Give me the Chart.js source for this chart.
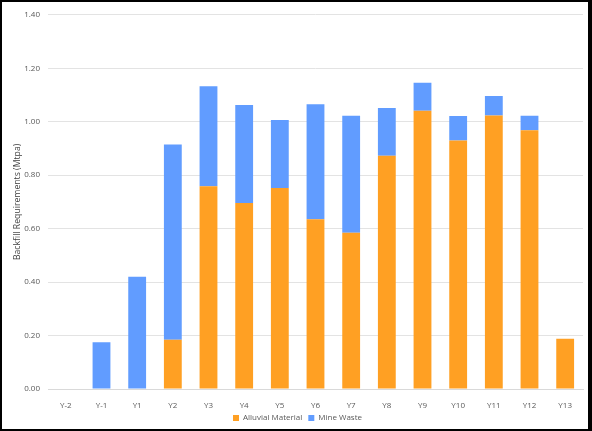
<!DOCTYPE html>
<html>
<head>
<meta charset="utf-8">
<script src="https://cdn.jsdelivr.net/npm/chart.js@4"></script>
<style>
  html, body { margin: 0; padding: 0; background: #fff; }
  #wrap { width: 592px; height: 431px; box-sizing: border-box; border: 2px solid #000; border-right-width: 4px; position: relative; background: #fff; }
  canvas { display: block; }
</style>
</head>
<body>
<div id="wrap"><canvas id="c" width="586" height="427"></canvas></div>
<script>
const categories = ['Y-2','Y-1','Y1','Y2','Y3','Y4','Y5','Y6','Y7','Y8','Y9','Y10','Y11','Y12','Y13'];
const alluvialMaterial = [0, 0, 0, 0.184, 0.759, 0.696, 0.752, 0.635, 0.585, 0.873, 1.041, 0.930, 1.023, 0.968, 0.188];
const mineWaste = [0, 0.175, 0.420, 0.731, 0.374, 0.367, 0.254, 0.430, 0.437, 0.178, 0.105, 0.091, 0.073, 0.054, 0];
const yTicks = [0, 0.2, 0.4, 0.6, 0.8, 1.0, 1.2, 1.4];

const FONT = "'Open Sans', 'Liberation Sans', sans-serif";
const TXT = '#595959';

new Chart(document.getElementById('c'), {
  type: 'bar',
  data: {
    labels: categories,
    datasets: [
      { label: 'Alluvial Material', data: alluvialMaterial, backgroundColor: '#FFA023', barPercentage: 0.5, categoryPercentage: 1.0 },
      { label: 'Mine Waste', data: mineWaste, backgroundColor: '#619CFF', barPercentage: 0.5, categoryPercentage: 1.0 }
    ]
  },
  options: {
    responsive: false,
    animation: false,
    layout: { padding: { top: 8, right: 5, left: 10, bottom: -3 } },
    plugins: {
      tooltip: { enabled: false },
      legend: {
        position: 'bottom',
        labels: { boxWidth: 6, boxHeight: 6, padding: 6, color: TXT, font: { family: FONT, size: 8 } }
      }
    },
    scales: {
      x: {
        stacked: true,
        grid: { display: false, drawTicks: false },
        border: { display: true, color: '#D9D9D9' },
        ticks: { color: TXT, font: { family: FONT, size: 8 }, padding: 12, maxRotation: 0, autoSkip: false },
        afterFit: (s) => { s.height = 19; }
      },
      y: {
        stacked: true,
        min: 0, max: 1.4,
        afterBuildTicks: (s) => { s.ticks = yTicks.map(v => ({ value: v })); },
        afterFit: (s) => { s.width = 36; },
        grid: { color: '#E3E3E3', drawTicks: false },
        border: { display: false },
        ticks: { color: TXT, font: { family: FONT, size: 8 }, padding: 8, callback: (v) => Number(v).toFixed(2) },
        title: { display: true, text: 'Backfill Requirements (Mtpa)', color: '#404040', font: { family: FONT, size: 8.7 }, padding: { top: 0, bottom: 0 } }
      }
    }
  }
});
</script>
</body>
</html>
